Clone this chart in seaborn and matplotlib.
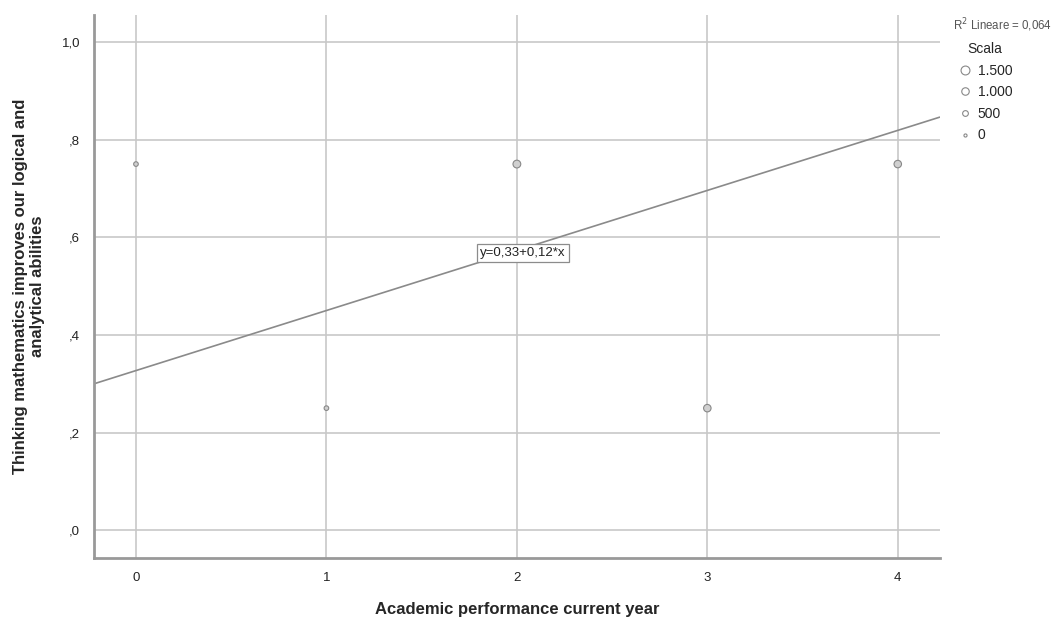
import matplotlib
matplotlib.use("Agg")
import matplotlib.pyplot as plt
from matplotlib.lines import Line2D
import pandas as pd
import seaborn as sns

# data
academic_year = [0, 1, 2, 3, 4]
thinking_math = [0.75, 0.25, 0.75, 0.25, 0.75]
frequency = [250, 250, 1100, 1000, 1000]

fit_intercept = 0.327
fit_slope = 0.123
fit_label = "y=0,33+0,12*x"
r2_label = "R$^2$ Lineare = 0,064"

legend_values = [1500, 1000, 500, 0]
legend_labels = ["1.500", "1.000", "500", "0"]

x_ticks = [0, 1, 2, 3, 4]
y_ticks = [0.0, 0.2, 0.4, 0.6, 0.8, 1.0]

df = pd.DataFrame(
    {"year": academic_year, "thinking": thinking_math, "freq": frequency}
)

sns.set_style("white")
plt.rcParams["font.family"] = ["Liberation Sans", "DejaVu Sans"]

fig = plt.figure(figsize=(10.57, 6.19), dpi=100)
ax = fig.add_axes([0.089, 0.0985, 0.800, 0.877])

grid_col = "#c8c8c8"
for t in x_ticks:
    ax.axvline(t, color=grid_col, lw=1.2, zorder=0)
for t in y_ticks:
    ax.axhline(t, color=grid_col, lw=1.2, zorder=0)


def size_of(v):
    # marker area for a frequency value
    return 5 + v * 0.024


sns.scatterplot(
    data=df,
    x="year",
    y="thinking",
    s=[size_of(v) for v in frequency],
    color="#d0d0d0",
    edgecolor="#888888",
    linewidth=0.8,
    legend=False,
    zorder=3,
    ax=ax,
)

ax.set_xlim(-0.22, 4.22)
ax.set_ylim(-0.057, 1.055)

# linear fit line
xs = list(ax.get_xlim())
ys = [fit_intercept + fit_slope * x for x in xs]
ax.plot(xs, ys, color="#8a8a8a", lw=1.2, zorder=2)

ax.text(
    2.03,
    0.568,
    fit_label,
    ha="center",
    va="center",
    fontsize=9.5,
    color="#222222",
    zorder=5,
    bbox=dict(boxstyle="square,pad=0.25", fc="white", ec="#8c8c8c", lw=0.9),
)

ax.set_xticks(x_ticks)
ax.set_xticklabels([str(t) for t in x_ticks])
ax.set_yticks(y_ticks)
ax.set_yticklabels(
    [f"{t:.1f}".replace(".", ",").lstrip("0") for t in y_ticks]
)
ax.tick_params(axis="both", length=0, labelsize=9.5, labelcolor="#222222")
ax.tick_params(axis="x", pad=10)
ax.tick_params(axis="y", pad=10)

ax.set_xlabel(
    "Academic performance current year", fontsize=12, fontweight="bold",
    labelpad=13
)
ax.set_ylabel(
    "Thinking mathematics improves our logical and\nanalytical abilities",
    fontsize=12,
    fontweight="bold",
    labelpad=12,
    linespacing=1.15,
)

sns.despine(ax=ax, top=True, right=True, left=False, bottom=False)
for side in ["left", "bottom"]:
    ax.spines[side].set_color("#999999")
    ax.spines[side].set_linewidth(2)

# legend outside to the right
fig.text(0.902, 0.945, r2_label, fontsize=8.3, color="#555555", ha="left",
         va="bottom")
handles = [
    Line2D([], [], ls="", marker="o", markersize=size_of(v) ** 0.5,
           mfc="white", mec="#888888", mew=0.8)
    for v in legend_values
]
leg = fig.legend(
    handles,
    legend_labels,
    title="Scala",
    loc="upper left",
    bbox_to_anchor=(0.896, 0.948),
    frameon=False,
    fontsize=10,
    title_fontsize=10,
    handletextpad=0.3,
    handlelength=1.2,
    labelspacing=0.55,
    borderpad=0.2,
)

plt.savefig("out.png", dpi=100)
